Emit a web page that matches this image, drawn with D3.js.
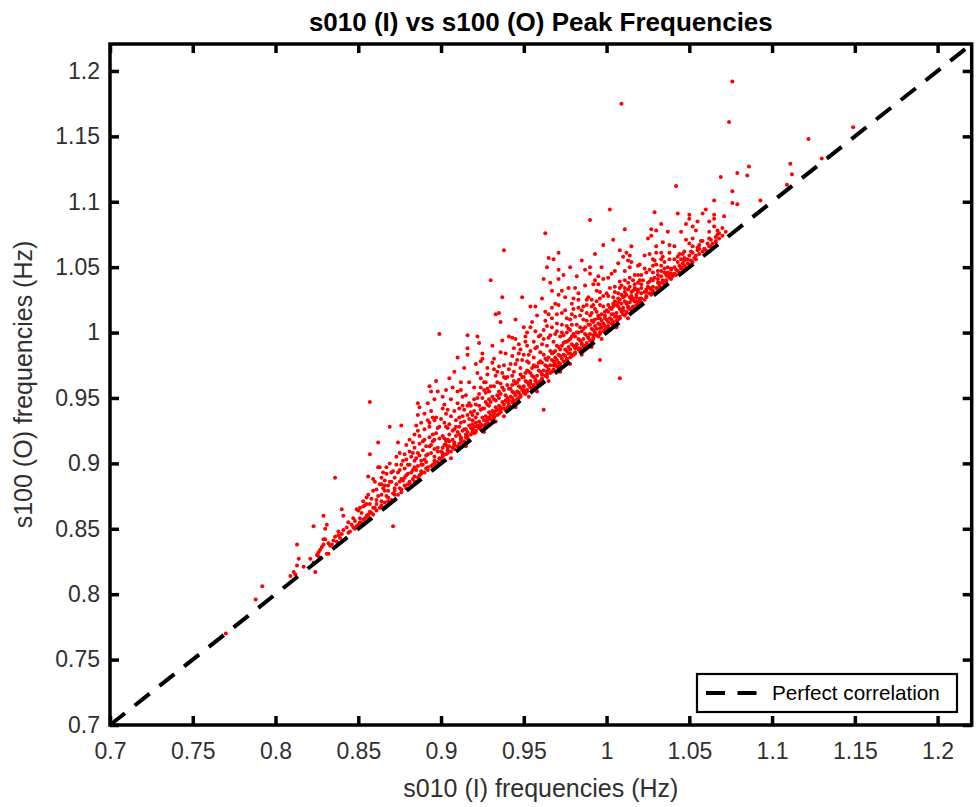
<!DOCTYPE html>
<html>
<head>
<meta charset="utf-8">
<script src="https://cdn.jsdelivr.net/npm/d3@7"></script>
<style>
    body { margin: 0; background: #ffffff; }
</style>
</head>
<body>
<div id="chart"></div>
<script>
// axis limits and ticks (same on both axes)
var axisLimits = [0.7, 1.2206]
var tickValues = [0.7, 0.75, 0.8, 0.85, 0.9, 0.95, 1, 1.05, 1.1, 1.15, 1.2]

var titleText = 's010 (I) vs s100 (O) Peak Frequencies'
var xLabelText = 's010 (I) frequencies (Hz)'
var yLabelText = 's100 (O) frequencies (Hz)'
var legendText = 'Perfect correlation'

// peak frequencies of s010 (I), grouped by x range
var s010 = [
    0.770,0.788,0.792,0.809,0.812,0.813,0.814,0.813,0.811,0.817,
    0.824,0.823,0.825,0.826,0.828,0.829,0.829,0.830,0.832,0.833,0.832,0.831,0.823,0.829,0.830,0.831,0.836,0.834,0.835,0.836,0.837,0.838,0.839,0.827,0.821,0.826,
    0.840,0.841,0.838,0.840,0.841,0.844,0.845,0.847,0.848,0.850,0.851,0.849,0.852,0.849,0.850,0.853,0.854,0.855,0.855,0.856,0.857,0.859,0.857,0.857,0.856,0.859,0.843,0.846,0.848,0.851,0.853,0.854,0.856,0.858,0.859,0.852,0.847,0.844,0.858,0.856,
    0.862,0.862,0.863,0.860,0.864,0.865,0.866,0.867,0.869,0.876,0.874,0.879,0.875,0.878,0.871,
    0.860,0.861,0.861,0.863,0.864,0.864,0.866,0.867,0.868,0.868,0.870,0.871,0.872,0.872,0.874,0.875,0.876,0.876,0.878,0.879,
    0.862,0.866,0.868,0.870,0.872,0.874,0.876,0.878,0.869,0.873,0.877,0.865,0.871,0.861,0.864,0.868,0.875,0.879,0.873,0.877,
    0.886,0.892,0.893,0.897,0.894,0.898,0.886,0.888,0.893,0.893,0.896,0.898,0.881,0.884,0.886,0.883,0.895,0.899,
    0.880,0.881,0.881,0.883,0.884,0.884,0.886,0.887,0.888,0.888,0.890,0.891,0.892,0.892,0.894,0.895,0.896,0.896,0.898,0.899,
    0.882,0.884,0.886,0.888,0.890,0.892,0.894,0.896,0.898,0.881,0.885,0.889,0.891,0.895,0.899,0.883,0.887,0.893,0.897,0.890,0.880,0.887,0.894,0.884,0.891,0.896,0.889,0.885,
    0.901,0.902,0.904,0.902,0.901,0.903,0.905,0.907,0.910,0.912,0.912,0.913,0.916,0.916,0.916,0.911,0.914,0.917,0.918,0.920,
    0.900,0.901,0.901,0.903,0.904,0.904,0.906,0.907,0.908,0.908,0.910,0.911,0.912,0.912,0.914,0.915,0.916,0.916,0.918,0.919,
    0.901,0.903,0.905,0.907,0.909,0.911,0.913,0.915,0.917,0.919,0.902,0.905,0.908,0.911,0.914,0.917,0.919,0.904,0.909,0.913,0.916,0.906,0.910,0.906,0.915,0.900,0.904,0.908,0.912,0.916,0.903,0.910,0.918,
    0.921,0.922,0.923,0.925,0.925,0.922,0.924,0.926,0.927,0.928,0.929,0.931,0.932,0.933,0.935,0.936,0.937,0.930,0.933,0.935,0.937,0.939,0.938,
    0.920,0.921,0.921,0.923,0.924,0.924,0.926,0.927,0.928,0.928,0.930,0.931,0.932,0.932,0.934,0.935,0.936,0.936,0.938,0.939,
    0.921,0.923,0.925,0.927,0.929,0.931,0.933,0.935,0.937,0.939,0.922,0.924,0.926,0.928,0.930,0.932,0.934,0.936,0.938,0.921,0.925,0.929,0.932,0.936,0.939,0.927,0.934,0.938,0.923,0.926,0.933,0.938,0.920,0.924,0.928,0.932,0.936,0.922,0.930,0.934,0.938,
    0.941,0.943,0.945,0.947,0.948,0.949,0.951,0.952,0.954,0.957,0.952,0.954,0.957,0.960,0.962,
    0.940,0.941,0.941,0.943,0.944,0.944,0.946,0.947,0.948,0.948,0.950,0.951,0.952,0.952,0.954,0.955,0.956,0.956,0.958,0.959,
    0.940,0.942,0.944,0.946,0.948,0.950,0.952,0.954,0.956,0.958,0.941,0.943,0.945,0.947,0.949,0.951,0.953,0.955,0.957,0.959,0.940,0.944,0.948,0.952,0.956,0.942,0.946,0.950,0.954,0.958,0.944,0.956,0.945,0.953,0.958,0.941,0.945,0.949,0.953,0.957,0.943,0.947,0.951,0.955,0.959,
    0.963,0.971,0.965,0.968,0.964,0.978,0.971,0.962,0.971,0.977,0.967,0.973,0.975,0.980,0.969,0.971,0.963,0.965,0.967,0.970,0.973,0.976,0.978,0.979,0.962,0.964,0.967,0.970,0.973,0.976,0.979,
    0.960,0.961,0.961,0.963,0.964,0.964,0.966,0.967,0.968,0.968,0.970,0.971,0.972,0.972,0.974,0.975,0.976,0.976,0.978,0.979,
    0.960,0.962,0.964,0.966,0.968,0.970,0.972,0.974,0.976,0.978,0.961,0.963,0.965,0.967,0.969,0.971,0.973,0.975,0.977,0.979,0.960,0.964,0.968,0.972,0.976,0.962,0.966,0.970,0.974,0.978,0.965,0.972,0.978,0.961,0.965,0.969,0.973,0.977,0.963,0.967,0.971,0.975,0.979,
    0.990,0.998,0.987,0.990,0.990,0.995,0.993,0.992,0.995,0.981,0.983,0.988,0.991,0.994,0.996,0.998,0.980,0.983,0.986,0.988,0.991,0.993,0.996,0.998,0.996,
    0.980,0.981,0.981,0.983,0.984,0.984,0.986,0.987,0.988,0.988,0.990,0.991,0.992,0.992,0.994,0.995,0.996,0.996,0.998,0.999,
    0.980,0.982,0.984,0.986,0.988,0.990,0.992,0.994,0.996,0.998,0.981,0.983,0.985,0.987,0.989,0.991,0.993,0.995,0.997,0.999,0.982,0.986,0.990,0.994,0.984,0.988,0.992,0.996,0.985,0.991,0.997,0.981,0.985,0.989,0.993,0.997,0.983,0.987,0.991,0.995,0.999,
    1.002,1.011,1.008,1.012,1.014,1.013,1.015,1.014,1.005,1.019,1.001,1.008,1.011,1.014,1.016,1.020,1.002,1.005,1.008,1.011,1.014,1.017,1.019,1.004,1.007,1.011,1.015,1.018,1.001,1.004,1.007,1.009,1.012,1.015,1.018,1.009,1.008,1.000,
    1.000,1.001,1.001,1.003,1.004,1.004,1.006,1.007,1.008,1.008,1.010,1.011,1.012,1.012,1.014,1.015,1.016,1.016,1.018,1.019,
    1.000,1.002,1.004,1.006,1.008,1.010,1.012,1.014,1.016,1.018,1.001,1.003,1.005,1.007,1.009,1.011,1.013,1.015,1.017,1.019,1.006,1.013,1.001,1.005,1.009,1.013,1.017,1.003,1.007,1.011,1.015,1.019,
    1.029,1.033,1.027,1.030,1.025,1.027,1.037,1.034,1.023,1.030,1.033,1.038,1.028,1.029,1.033,1.020,1.038,1.035,1.028,1.031,1.033,1.037,1.039,1.021,1.026,1.028,1.032,1.035,1.037,1.021,1.024,1.026,1.028,1.036,
    1.020,1.021,1.021,1.023,1.024,1.024,1.026,1.027,1.028,1.028,1.030,1.031,1.032,1.032,1.034,1.035,1.036,1.036,1.038,1.039,
    1.021,1.023,1.025,1.027,1.029,1.031,1.033,1.035,1.037,1.039,1.022,1.024,1.026,1.030,
    1.042,1.043,1.050,1.050,1.052,1.058,1.057,1.055,1.052,1.050,1.047,1.044,1.046,1.049,1.041,1.045,1.046,1.044,1.042,1.045,1.054,1.056,1.052,1.060,
    1.040,1.041,1.042,1.043,1.044,1.045,1.046,1.047,1.048,1.049,1.050,1.051,1.052,1.053,1.054,1.056,1.058,1.059,1.043,1.047,1.051,1.055,1.041,
    1.062,1.065,1.065,1.062,1.062,1.066,1.067,1.076,1.074,1.069,1.079,1.085,1.086,1.076,1.076,1.079,1.071,1.065,1.065,1.093,1.060,1.062,1.064,1.066,1.068,1.070,1.063,1.067,
    1.111,1.112,1.109,1.122,1.130,1.149,
    // spread above the main band
    0.851,0.853,0.855,0.857,0.859,0.861,0.863,0.864,0.866,0.867,0.869,0.870,0.872,0.873,0.875,0.876,0.878,0.879,
    0.880,0.881,0.882,0.883,0.884,0.885,0.886,0.887,0.888,0.889,0.890,0.891,0.892,0.893,0.894,0.895,0.896,0.897,0.898,0.899,0.890,0.887,0.896,
    0.900,0.901,0.902,0.903,0.904,0.905,0.906,0.907,0.908,0.909,0.910,0.911,0.912,0.913,0.914,0.915,0.916,0.917,0.918,0.919,0.920,0.908,0.914,0.903,
    0.920,0.921,0.922,0.923,0.924,0.925,0.926,0.927,0.928,0.929,0.930,0.931,0.932,0.933,0.934,0.935,0.936,0.937,0.938,0.939,0.924,0.931,0.937,0.928,0.935,
    0.940,0.941,0.942,0.943,0.944,0.945,0.946,0.947,0.948,0.949,0.950,0.951,0.952,0.953,0.954,0.955,0.956,0.957,0.958,0.959,0.945,0.950,0.958,0.943,0.953,
    0.960,0.961,0.962,0.963,0.964,0.965,0.966,0.967,0.968,0.969,0.970,0.971,0.972,0.973,0.974,0.975,0.976,0.977,0.978,0.979,0.966,0.974,0.961,0.969,0.977,
    0.980,0.981,0.982,0.983,0.984,0.985,0.986,0.987,0.988,0.989,0.990,0.991,0.992,0.993,0.994,0.995,0.996,0.997,0.998,0.999,0.985,0.993,0.982,0.997,
    1.000,1.001,1.002,1.003,1.004,1.005,1.006,1.007,1.008,1.009,1.010,1.011,1.012,1.013,1.014,1.015,1.016,1.017,1.018,1.019,1.004,1.010,
    1.021,1.023,1.025,1.026,1.028,1.030,1.031,1.033,1.034,1.036,1.038,1.039,1.041,1.043,1.045,1.047,1.048,1.050,1.052,1.054,1.056,1.058,1.055,1.048,
    1.061,1.063,1.066,1.068,1.070,1.072,
    // close to the diagonal
    0.901,0.905,0.908,0.912,0.915,0.919,0.922,0.926,0.929,0.933,0.936,0.940,0.943,0.947,0.950,0.954,0.957,0.961,0.964,0.968,
    0.971,0.975,0.978,0.982,0.985,0.989,0.992,0.996,0.999,1.003,1.006,1.010,1.013,1.017,1.020,1.024,1.027,1.031,1.034,1.038
]

// matching peak frequencies of s100 (O), same order as s010
var s100 = [
    0.770,0.796,0.806,0.814,0.815,0.822,0.827,0.838,0.817,0.821,
    0.817,0.824,0.830,0.832,0.836,0.838,0.842,0.842,0.839,0.837,0.831,0.831,0.852,0.860,0.850,0.853,0.889,0.838,0.841,0.844,0.840,0.845,0.843,0.834,0.827,0.829,
    0.865,0.860,0.848,0.846,0.849,0.847,0.848,0.851,0.850,0.853,0.855,0.852,0.854,0.865,0.864,0.867,0.868,0.869,0.860,0.861,0.863,0.866,0.947,0.907,0.890,0.888,0.851,0.853,0.856,0.858,0.857,0.858,0.859,0.862,0.861,0.862,0.858,0.855,0.873,0.876,
    0.916,0.897,0.897,0.886,0.884,0.881,0.887,0.892,0.928,0.929,0.916,0.914,0.908,0.907,0.852,
    0.866,0.864,0.869,0.866,0.871,0.868,0.870,0.875,0.871,0.874,0.872,0.877,0.876,0.879,0.876,0.881,0.878,0.880,0.883,0.881,
    0.875,0.879,0.883,0.886,0.889,0.893,0.888,0.896,0.900,0.899,0.902,0.893,0.894,0.880,0.876,0.879,0.886,0.891,0.884,0.887,
    0.946,0.946,0.959,0.963,0.955,0.955,0.937,0.931,0.931,0.928,0.933,0.927,0.909,0.922,0.925,0.916,0.935,0.999,
    0.884,0.886,0.885,0.888,0.886,0.890,0.889,0.891,0.892,0.894,0.893,0.896,0.895,0.897,0.898,0.899,0.900,0.902,0.901,0.904,
    0.893,0.897,0.898,0.902,0.903,0.907,0.908,0.911,0.912,0.899,0.904,0.910,0.913,0.917,0.919,0.908,0.915,0.920,0.923,0.918,0.892,0.906,0.914,0.902,0.901,0.905,0.899,0.895,
    0.951,0.945,0.941,0.931,0.942,0.928,0.965,0.958,0.981,0.962,0.956,0.951,0.998,0.988,0.983,0.942,0.941,0.946,0.939,0.949,
    0.903,0.906,0.905,0.907,0.908,0.910,0.909,0.912,0.911,0.914,0.913,0.915,0.916,0.918,0.917,0.920,0.919,0.921,0.922,0.924,
    0.912,0.914,0.917,0.918,0.921,0.922,0.925,0.926,0.929,0.930,0.919,0.922,0.926,0.928,0.932,0.934,0.937,0.927,0.933,0.936,0.944,0.936,0.946,0.904,0.913,0.909,0.912,0.916,0.920,0.924,0.917,0.924,0.927,
    0.976,0.969,0.992,0.984,0.980,0.997,0.958,0.962,0.954,0.973,0.949,0.977,0.972,1.014,1.015,1.008,1.027,1.040,0.967,0.974,0.969,0.984,1.063,
    0.923,0.925,0.924,0.927,0.926,0.928,0.929,0.930,0.932,0.931,0.934,0.933,0.936,0.935,0.937,0.938,0.940,0.939,0.942,0.941,
    0.931,0.932,0.935,0.936,0.939,0.940,0.943,0.944,0.947,0.948,0.938,0.941,0.942,0.945,0.947,0.949,0.952,0.953,0.956,0.945,0.950,0.955,0.959,0.961,0.965,0.962,0.970,0.975,0.953,0.924,0.932,0.936,0.928,0.930,0.934,0.938,0.943,0.929,0.937,0.941,0.945,
    0.997,0.996,0.995,0.984,0.987,1.027,0.997,0.990,1.020,1.020,1.000,1.004,1.001,0.998,0.941,
    0.943,0.945,0.944,0.947,0.946,0.948,0.949,0.950,0.951,0.952,0.954,0.953,0.955,0.956,0.958,0.957,0.960,0.959,0.961,0.962,
    0.950,0.951,0.954,0.955,0.958,0.959,0.962,0.963,0.966,0.967,0.957,0.960,0.961,0.964,0.966,0.969,0.970,0.973,0.974,0.977,0.966,0.970,0.973,0.978,0.981,0.976,0.979,0.983,0.986,0.989,0.988,0.993,0.943,0.951,0.955,0.948,0.952,0.956,0.960,0.964,0.955,0.959,0.963,0.967,0.971,
    1.076,1.061,1.057,1.056,1.050,1.050,1.048,1.041,1.041,1.034,1.032,1.032,1.027,1.026,1.022,1.021,1.016,1.014,1.011,1.014,1.015,1.011,1.010,1.014,1.002,1.005,1.004,1.001,1.006,1.005,1.006,
    0.963,0.965,0.964,0.967,0.966,0.968,0.969,0.970,0.971,0.972,0.974,0.973,0.975,0.976,0.978,0.977,0.980,0.979,0.981,0.982,
    0.970,0.971,0.974,0.975,0.978,0.979,0.982,0.983,0.986,0.987,0.977,0.980,0.981,0.984,0.986,0.989,0.990,0.993,0.994,0.997,0.985,0.990,0.993,0.997,1.000,0.995,0.998,1.007,0.998,1.002,0.963,0.970,0.976,0.968,0.972,0.976,0.980,0.984,0.975,0.979,0.983,0.987,0.991,
    1.086,1.067,1.048,1.050,1.045,1.043,1.040,1.037,1.037,1.034,1.025,1.025,1.025,1.024,1.031,1.028,1.018,1.019,1.020,1.021,1.020,1.018,1.021,1.020,0.979,
    0.983,0.985,0.984,0.987,0.986,0.988,0.989,0.990,0.991,0.992,0.994,0.993,0.995,0.996,0.998,0.997,1.000,0.999,1.001,1.002,
    0.990,0.991,0.994,0.995,0.998,0.999,1.002,1.003,1.006,1.007,0.997,1.000,1.001,1.004,1.006,1.009,1.010,1.013,1.014,1.016,1.006,1.010,1.013,1.016,1.013,1.015,1.008,1.011,0.983,0.989,0.995,0.988,0.992,0.996,1.000,1.004,0.995,0.999,1.003,1.007,1.011,
    1.094,1.079,1.063,1.061,1.059,1.055,1.054,1.050,1.047,1.044,1.042,1.039,1.040,1.042,1.040,1.040,1.034,1.035,1.034,1.034,1.035,1.034,1.033,1.027,1.030,1.028,1.027,1.029,1.021,1.020,1.023,1.022,1.023,1.025,1.024,1.175,0.965,1.030,
    1.003,1.005,1.004,1.007,1.006,1.008,1.009,1.010,1.011,1.012,1.014,1.013,1.015,1.016,1.018,1.017,1.020,1.019,1.021,1.022,
    1.010,1.011,1.014,1.015,1.018,1.019,1.022,1.023,1.026,1.027,1.016,1.018,1.024,1.026,1.029,1.031,1.033,1.031,1.037,1.038,1.004,1.011,1.008,1.012,1.016,1.020,1.024,1.014,1.020,1.024,1.028,1.031,
    1.092,1.083,1.079,1.078,1.072,1.074,1.077,1.069,1.059,1.061,1.061,1.061,1.056,1.055,1.056,1.052,1.056,1.054,1.051,1.047,1.051,1.050,1.049,1.044,1.039,1.046,1.038,1.046,1.043,1.037,1.033,1.034,1.035,1.039,
    1.024,1.023,1.026,1.025,1.028,1.027,1.030,1.029,1.032,1.031,1.034,1.033,1.036,1.035,1.038,1.037,1.040,1.039,1.042,1.041,
    1.030,1.031,1.035,1.041,1.042,1.044,1.043,1.049,1.046,1.045,1.040,1.046,1.048,1.052,
    1.112,1.091,1.090,1.087,1.081,1.091,1.070,1.065,1.072,1.068,1.062,1.060,1.060,1.056,1.056,1.056,1.053,1.051,1.048,1.050,1.059,1.067,1.066,1.094,
    1.043,1.045,1.044,1.047,1.046,1.049,1.048,1.051,1.050,1.053,1.052,1.055,1.054,1.057,1.056,1.060,1.062,1.064,1.054,1.057,1.062,1.063,1.050,
    1.085,1.090,1.087,1.077,1.072,1.070,1.075,1.192,1.161,1.119,1.122,1.120,1.127,1.108,1.099,1.098,1.089,1.101,1.081,1.101,1.063,1.066,1.068,1.069,1.072,1.074,1.071,1.078,
    1.129,1.121,1.113,1.148,1.133,1.157,
    // spread above the main band
    0.866,0.871,0.874,0.869,0.879,0.872,0.884,0.889,0.883,0.897,0.886,0.893,0.881,0.905,0.895,0.899,0.889,0.903,
    0.899,0.918,0.905,0.895,0.912,0.929,0.908,0.921,0.899,0.917,0.926,0.906,0.933,0.913,0.940,0.922,0.918,0.935,0.909,0.928,0.938,0.943,0.949,
    0.934,0.921,0.914,0.938,0.918,0.930,0.949,0.925,0.940,0.928,0.955,0.935,0.931,0.944,0.926,0.952,0.937,0.962,0.944,0.933,0.958,0.970,0.973,0.956,
    0.940,0.935,0.950,0.944,0.965,0.942,0.956,0.947,0.968,0.944,0.959,0.951,0.980,0.948,0.962,0.955,0.985,0.958,0.966,0.952,0.978,0.990,0.994,0.957,0.950,
    0.960,0.972,0.957,0.982,0.963,0.976,0.962,0.991,0.968,0.979,0.966,0.993,0.971,0.983,0.969,1.008,0.975,0.988,0.974,0.997,1.010,1.004,1.013,0.967,0.977,
    0.978,0.991,0.983,1.009,0.979,0.996,0.986,1.019,0.985,0.999,0.990,1.029,0.987,1.000,0.992,1.017,0.993,1.003,0.995,1.022,1.038,1.044,1.026,0.981,0.989,
    0.999,1.012,1.000,1.030,1.004,1.017,1.003,1.036,1.009,1.027,1.006,1.015,1.021,1.005,1.032,1.011,1.026,1.009,1.041,1.013,1.055,1.060,1.043,1.050,
    1.017,1.028,1.019,1.045,1.022,1.031,1.021,1.053,1.025,1.036,1.027,1.047,1.029,1.038,1.027,1.066,1.032,1.044,1.033,1.051,1.071,1.058,
    1.034,1.049,1.038,1.060,1.040,1.066,1.041,1.047,1.058,1.044,1.067,1.048,1.066,1.058,1.077,1.055,1.071,1.059,1.061,1.078,1.064,1.070,1.085,1.083,
    1.068,1.066,1.073,1.076,1.080,1.077,
    // close to the diagonal
    0.908,0.913,0.914,0.919,0.922,0.926,0.928,0.933,0.935,0.940,0.942,0.947,0.950,0.954,0.956,0.961,0.963,0.968,0.970,0.975,
    0.977,0.982,0.984,0.989,0.991,0.996,0.998,1.003,1.005,1.010,1.012,1.017,1.019,1.024,1.026,1.031,1.033,1.038,1.040,1.045
]

var width = 978
var height = 807
var plotLeft = 110, plotRight = 971.7, plotTop = 44, plotBottom = 725
var fontFamily = '"Liberation Sans", Arial, Helvetica, sans-serif'
var textColor = '#303030'

var svg = d3.select('#chart')
    .append('svg')
    .attr('width', width)
    .attr('height', height)

var x = d3.scaleLinear().domain(axisLimits).range([plotLeft, plotRight])
var y = d3.scaleLinear().domain(axisLimits).range([plotBottom, plotTop])

var points = s010.map(function (d, i) { return { s010: d, s100: s100[i] } })

// scatter of peak pairs
svg.append('g')
    .selectAll('circle')
    .data(points)
    .enter()
    .append('circle')
    .attr('cx', function (d) { return x(d.s010) })
    .attr('cy', function (d) { return y(d.s100) })
    .attr('r', 2)
    .style('fill', '#ff0000')

// perfect correlation line, corner to corner
svg.append('line')
    .attr('x1', x(axisLimits[0]))
    .attr('y1', y(axisLimits[0]))
    .attr('x2', x(axisLimits[1]))
    .attr('y2', y(axisLimits[1]))
    .attr('stroke', '#000')
    .attr('stroke-width', 4)
    .attr('stroke-dasharray', '19,12.5')

var fmt = function (d) { return String(+d.toFixed(2)) }

function styleAxis(g, showText) {
    g.attr('font-family', fontFamily).attr('font-size', 23).attr('color', textColor)
    g.select('.domain').remove()
    g.selectAll('.tick line').attr('stroke', '#000').attr('stroke-width', 3.5)
    if (!showText) g.selectAll('.tick text').remove()
}

// inward ticks on all four sides
svg.append('g')
    .attr('transform', `translate(0,${plotBottom})`)
    .call(d3.axisBottom(x).tickValues(tickValues).tickSizeInner(-9).tickSizeOuter(0).tickPadding(18).tickFormat(fmt))
    .call(styleAxis, true)

svg.append('g')
    .attr('transform', `translate(${plotLeft},0)`)
    .call(d3.axisLeft(y).tickValues(tickValues).tickSizeInner(-9).tickSizeOuter(0).tickPadding(10).tickFormat(fmt))
    .call(styleAxis, true)

svg.append('g')
    .attr('transform', `translate(0,${plotTop})`)
    .call(d3.axisTop(x).tickValues(tickValues).tickSizeInner(-9).tickSizeOuter(0))
    .call(styleAxis, false)

svg.append('g')
    .attr('transform', `translate(${plotRight},0)`)
    .call(d3.axisRight(y).tickValues(tickValues).tickSizeInner(-9).tickSizeOuter(0))
    .call(styleAxis, false)

// axes box
svg.append('rect')
    .attr('x', plotLeft)
    .attr('y', plotTop)
    .attr('width', plotRight - plotLeft)
    .attr('height', plotBottom - plotTop)
    .attr('fill', 'none')
    .attr('stroke', '#000')
    .attr('stroke-width', 3.5)

// title and labels
svg.append('text')
    .attr('x', (plotLeft + plotRight) / 2)
    .attr('y', 31)
    .attr('text-anchor', 'middle')
    .attr('font-family', fontFamily)
    .attr('font-size', 26)
    .attr('font-weight', 'bold')
    .attr('fill', '#000')
    .text(titleText)

svg.append('text')
    .attr('x', (plotLeft + plotRight) / 2)
    .attr('y', 796.5)
    .attr('text-anchor', 'middle')
    .attr('font-family', fontFamily)
    .attr('font-size', 25)
    .attr('fill', textColor)
    .text(xLabelText)

svg.append('text')
    .attr('transform', `translate(32,${(plotTop + plotBottom) / 2}) rotate(-90)`)
    .attr('text-anchor', 'middle')
    .attr('font-family', fontFamily)
    .attr('font-size', 25)
    .attr('fill', textColor)
    .text(yLabelText)

// legend, bottom right
var legend = svg.append('g').attr('transform', `translate(${plotRight - 274.7},${plotBottom - 51})`)

legend.append('rect')
    .attr('width', 260)
    .attr('height', 38)
    .attr('fill', '#fff')
    .attr('stroke', '#000')
    .attr('stroke-width', 2.2)

legend.append('line')
    .attr('x1', 9)
    .attr('x2', 61)
    .attr('y1', 19)
    .attr('y2', 19)
    .attr('stroke', '#000')
    .attr('stroke-width', 4)
    .attr('stroke-dasharray', '19,12.5')

legend.append('text')
    .attr('x', 75)
    .attr('y', 26)
    .attr('font-family', fontFamily)
    .attr('font-size', 20.7)
    .attr('fill', '#000')
    .text(legendText)
</script>
</body>
</html>
